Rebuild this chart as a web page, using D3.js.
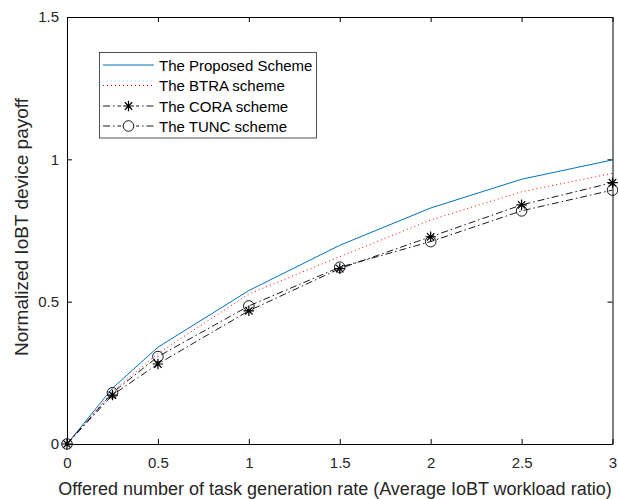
<!DOCTYPE html>
<html>
<head>
<meta charset="utf-8">
<script src="https://cdn.jsdelivr.net/npm/d3@7"></script>
<style>
  body { margin: 0; background: #fff; }
  svg { display: block; font-family: "Liberation Sans", Arial, sans-serif; }
</style>
</head>
<body>
<svg id="chart" width="618" height="499"></svg>
<script>
// ── data ──
const rates    = [0, 0.25, 0.5, 1, 1.5, 2, 2.5, 3];
const proposed = [0, 0.196, 0.340, 0.539, 0.698, 0.829, 0.930, 0.998];
const btra     = [0, 0.184, 0.318, 0.527, 0.658, 0.787, 0.886, 0.951];
const cora     = [0, 0.172, 0.281, 0.468, 0.616, 0.728, 0.840, 0.918];
const tunc     = [0, 0.180, 0.307, 0.485, 0.621, 0.711, 0.819, 0.892];
const xTicks   = [0, 0.5, 1, 1.5, 2, 2.5, 3];
const yTicks   = [0, 0.5, 1, 1.5];
const names    = ["The Proposed Scheme", "The BTRA scheme", "The CORA scheme", "The TUNC scheme"];

const L = 67, R = 612.5, T = 17, B = 444;
const svg = d3.select("#chart");
const x = d3.scaleLinear().domain([0, 3]).range([L, R]);
const y = d3.scaleLinear().domain([0, 1.5]).range([B, T]);

/* axes, MATLAB box style with inward ticks */
const tk = 5;
svg.append("g").attr("transform", `translate(0,${B})`)
  .call(d3.axisBottom(x).tickValues(xTicks).tickSizeInner(-tk).tickSizeOuter(0).tickPadding(13).tickFormat(d3.format("")));
svg.append("g").attr("transform", `translate(0,${T})`)
  .call(d3.axisTop(x).tickValues(xTicks).tickSizeInner(-tk).tickSizeOuter(0).tickFormat(""));
svg.append("g").attr("transform", `translate(${L},0)`)
  .call(d3.axisLeft(y).tickValues(yTicks).tickSizeInner(-tk).tickSizeOuter(0).tickPadding(8).tickFormat(d3.format("")));
svg.append("g").attr("transform", `translate(${R},0)`)
  .call(d3.axisRight(y).tickValues(yTicks).tickSizeInner(-tk).tickSizeOuter(0).tickFormat(""));
svg.selectAll(".domain").attr("stroke", "#000").attr("stroke-width", 1);
svg.selectAll(".tick line").attr("stroke", "#000");
svg.selectAll(".tick text").attr("font-size", 15).attr("fill", "#262626")
  .attr("font-family", "Liberation Sans, Arial, sans-serif");

/* series */
const series = [
  { vals: proposed, color: "#0072BD", dash: null, width: 1, marker: null },
  { vals: btra,     color: "#FF0000", dash: "1,3", width: 1, marker: null },
  { vals: cora,     color: "#000",    dash: "7,3,1.5,3", width: 0.9, marker: "star" },
  { vals: tunc,     color: "#000",    dash: "7,3,1.5,3", width: 0.9, marker: "circle" }
];
const line = d3.line().x((d, i) => x(rates[i])).y(d => y(d));

function drawMarker(g, type, cx, cy) {
  if (type === "circle") {
    g.append("circle").attr("cx", cx).attr("cy", cy).attr("r", 5.3)
      .attr("fill", "none").attr("stroke", "#000").attr("stroke-width", 0.9);
  } else if (type === "star") {
    const s = 5.3;
    const p = `M${cx - s},${cy}H${cx + s}M${cx},${cy - s}V${cy + s}` +
      `M${cx - s * .7},${cy - s * .7}L${cx + s * .7},${cy + s * .7}` +
      `M${cx - s * .7},${cy + s * .7}L${cx + s * .7},${cy - s * .7}`;
    g.append("path").attr("d", p).attr("stroke", "#000").attr("stroke-width", 1.2);
  }
}

const gLines = svg.append("g");
series.forEach(s => {
  gLines.append("path").datum(s.vals).attr("d", line)
    .attr("fill", "none").attr("stroke", s.color).attr("stroke-width", s.width)
    .attr("stroke-dasharray", s.dash);
  if (s.marker) s.vals.forEach((v, i) => drawMarker(gLines, s.marker, x(rates[i]), y(v)));
});

/* legend */
const lg = svg.append("g");
lg.append("rect").attr("x", 99.5).attr("y", 52.5).attr("width", 217).attr("height", 85.5)
  .attr("fill", "#fff").attr("stroke", "#262626").attr("stroke-width", 0.8);
const rowY = [65, 85.5, 106, 126];
series.forEach((s, i) => {
  lg.append("line").attr("x1", 103).attr("x2", 154).attr("y1", rowY[i]).attr("y2", rowY[i])
    .attr("stroke", s.color).attr("stroke-width", s.width).attr("stroke-dasharray", s.dash);
  if (s.marker) {
    lg.append("rect").attr("x", 121).attr("y", rowY[i] - 6).attr("width", 15).attr("height", 12).attr("fill", "#fff");
    drawMarker(lg, s.marker, 128.5, rowY[i]);
  }
  lg.append("text").attr("x", 159).attr("y", rowY[i] + 5.5).attr("font-size", 15)
    .attr("fill", "#000").text(names[i]);
});

/* axis titles */
svg.append("text").attr("x", 335).attr("y", 495).attr("text-anchor", "middle")
  .attr("font-size", 18).attr("fill", "#262626")
  .text("Offered number of task generation rate (Average IoBT workload ratio)");
svg.append("text").attr("transform", "translate(28,227) rotate(-90)")
  .attr("text-anchor", "middle").attr("font-size", 19).attr("fill", "#262626")
  .text("Normalized IoBT device payoff");
</script>
</body>
</html>
